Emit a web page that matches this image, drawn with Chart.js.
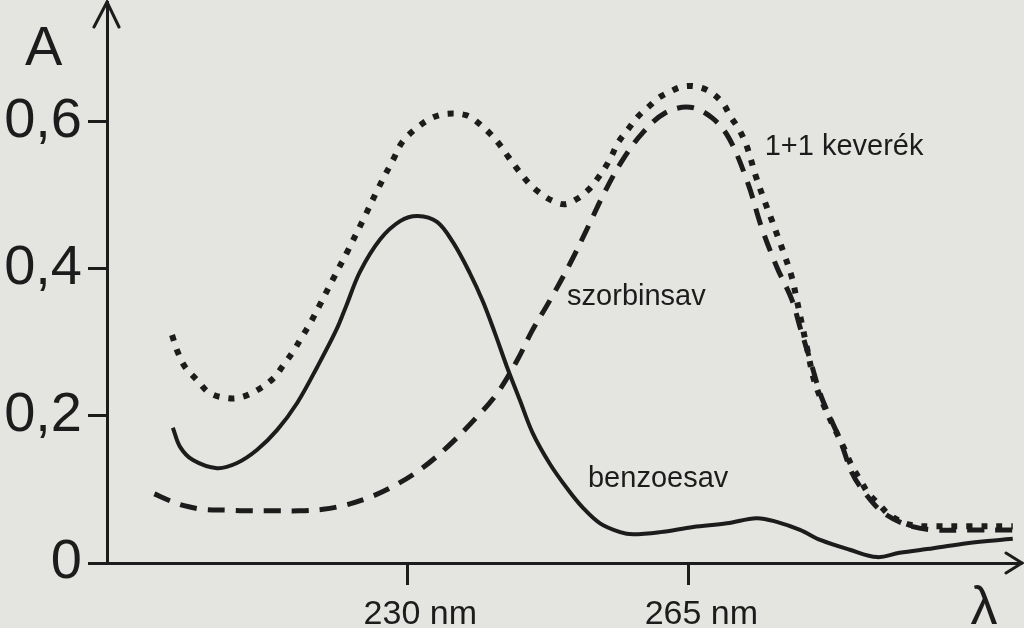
<!DOCTYPE html>
<html>
<head>
<meta charset="utf-8">
<script src="https://cdn.jsdelivr.net/npm/chart.js@4.4.1/dist/chart.umd.min.js"></script>
<style>
  html, body { margin: 0; padding: 0; background: #e4e4e1; }
  #wrap { width: 1024px; height: 628px; }
</style>
</head>
<body>
<div id="wrap"><canvas id="c" width="1024" height="628"></canvas></div>
<script>
// ---- data (wavelength in nm, absorbance A) ----
const xTicks = [230, 265];
const yTicks = [0, 0.2, 0.4, 0.6];

const benzoLambda = [200.8, 201.7, 203.3, 206.3, 208.8, 211.3, 213.8, 216.3, 218.8, 221.2, 222.4, 224.1, 226.6, 229.1, 231.3, 233.7, 235.7, 237.8, 239.4, 240.9, 242.4, 244.0, 245.6, 247.8, 250.0, 251.8, 254.0, 256.5, 258.1, 261.5, 265.6, 269.8, 273.5, 276.0, 278.9, 281.5, 285.1, 288.5, 291.3, 295.5, 299.7, 305.4];
const benzoA      = [0.184, 0.158, 0.140, 0.129, 0.136, 0.154, 0.181, 0.218, 0.267, 0.318, 0.350, 0.396, 0.440, 0.465, 0.472, 0.464, 0.436, 0.394, 0.356, 0.313, 0.267, 0.222, 0.177, 0.134, 0.100, 0.076, 0.054, 0.042, 0.039, 0.042, 0.049, 0.054, 0.061, 0.056, 0.045, 0.031, 0.018, 0.008, 0.014, 0.020, 0.027, 0.033];

const szorbLambda = [198.5, 200.6, 202.2, 204.6, 207.5, 210.5, 213.5, 216.5, 219.5, 222.0, 225.0, 228.2, 231.6, 235.0, 238.7, 241.2, 243.7, 245.5, 247.8, 250.3, 252.5, 254.6, 256.8, 259.3, 262.1, 265.2, 268.0, 270.1, 272.4, 274.1, 276.0, 277.9, 278.9, 280.2, 281.4, 282.4, 283.9, 285.4, 287.0, 289.2, 292.2, 295.5, 300.0, 305.4];
const szorbA      = [0.094, 0.084, 0.078, 0.073, 0.072, 0.071, 0.071, 0.071, 0.073, 0.078, 0.088, 0.104, 0.127, 0.158, 0.199, 0.231, 0.276, 0.315, 0.358, 0.408, 0.457, 0.505, 0.548, 0.585, 0.612, 0.620, 0.605, 0.577, 0.517, 0.457, 0.403, 0.358, 0.321, 0.275, 0.231, 0.204, 0.167, 0.122, 0.095, 0.069, 0.052, 0.045, 0.045, 0.045];

const kevLambda = [200.7, 201.4, 202.3, 203.8, 205.4, 207.8, 209.5, 211.3, 213.3, 214.5, 215.8, 216.8, 218.0, 219.1, 220.7, 222.6, 224.6, 226.4, 228.3, 229.4, 231.2, 233.0, 234.9, 237.3, 238.9, 240.3, 241.5, 242.6, 243.9, 245.1, 246.3, 248.0, 249.6, 251.1, 252.5, 253.7, 254.7, 255.5, 256.2, 257.5, 258.7, 260.0, 261.2, 262.7, 264.3, 266.0, 267.7, 269.3, 270.2, 271.4, 272.3, 273.4, 274.5, 275.4, 276.2, 277.0, 277.9, 278.5, 279.1, 279.9, 280.7, 282.0, 283.6, 284.3, 285.4, 286.4, 287.4, 288.8, 290.1, 292.6, 295.5, 300.0, 305.4];
const kevA      = [0.310, 0.287, 0.267, 0.249, 0.231, 0.224, 0.226, 0.235, 0.251, 0.268, 0.288, 0.306, 0.328, 0.351, 0.385, 0.425, 0.469, 0.510, 0.550, 0.573, 0.592, 0.605, 0.611, 0.609, 0.598, 0.584, 0.569, 0.552, 0.533, 0.517, 0.505, 0.493, 0.488, 0.495, 0.507, 0.523, 0.539, 0.555, 0.571, 0.590, 0.607, 0.620, 0.632, 0.641, 0.648, 0.648, 0.641, 0.625, 0.608, 0.588, 0.566, 0.526, 0.492, 0.466, 0.442, 0.418, 0.388, 0.358, 0.327, 0.286, 0.247, 0.211, 0.174, 0.158, 0.131, 0.113, 0.095, 0.079, 0.065, 0.052, 0.050, 0.050, 0.050];

const seriesNames = ['benzoesav', 'szorbinsav', '1+1 keverék'];
// annotation anchors in data units (λ, A)
const labelAnchors = [[252.5, 0.103], [249.9, 0.351], [274.5, 0.555]];

const X_MIN = 192.6, X_MAX = 306.3, Y_MIN = 0, Y_MAX = 0.763;

const INK = '#1c1c1c';
const FONT = '"Liberation Sans", Arial, sans-serif';

function pts(xs, ys) { return xs.map((x, i) => ({ x: x, y: ys[i] })); }
function noPad(scale) {
  scale.paddingTop = 0; scale.paddingBottom = 0;
  scale.paddingLeft = 0; scale.paddingRight = 0;
}

const decor = {
  id: 'decor',
  beforeDraw(chart) {
    const ctx = chart.ctx;
    ctx.save();
    ctx.fillStyle = '#e4e4e1';
    ctx.fillRect(0, 0, chart.width, chart.height);
    ctx.restore();
  },
  afterDraw(chart) {
    const ctx = chart.ctx;
    const xs = chart.scales.x, ys = chart.scales.y;
    const x0 = xs.getPixelForValue(X_MIN);
    const y0 = ys.getPixelForValue(0);
    const xEnd = xs.getPixelForValue(X_MAX);
    const yTop = ys.getPixelForValue(Y_MAX);
    ctx.save();
    ctx.strokeStyle = INK;
    ctx.lineWidth = 3;
    ctx.lineCap = 'round';
    // arrow heads
    ctx.beginPath();
    ctx.moveTo(x0 - 13, yTop + 25); ctx.lineTo(x0, yTop); ctx.lineTo(x0 + 12, yTop + 25);
    ctx.stroke();
    ctx.beginPath();
    ctx.moveTo(xEnd - 14, y0 - 10); ctx.lineTo(xEnd + 2, y0); ctx.lineTo(xEnd - 14, y0 + 10);
    ctx.stroke();
    ctx.beginPath();
    ctx.moveTo(xEnd - 2, y0); ctx.lineTo(xEnd + 2, y0);
    ctx.stroke();
    // axis names
    ctx.fillStyle = INK;
    ctx.textBaseline = 'alphabetic';
    ctx.textAlign = 'left';
    ctx.font = '56px ' + FONT;
    ctx.fillText('A', 25, 65);
    ctx.textAlign = 'center';
    ctx.font = '54px ' + FONT;
    ctx.fillText('λ', 984, 624);
    // curve labels
    ctx.textAlign = 'left';
    ctx.font = '29px ' + FONT;
    seriesNames.forEach((n, i) => {
      const a = labelAnchors[i];
      ctx.fillText(n, xs.getPixelForValue(a[0]), ys.getPixelForValue(a[1]));
    });
    ctx.restore();
  }
};

new Chart(document.getElementById('c'), {
  type: 'line',
  data: {
    datasets: [
      {
        label: seriesNames[1],
        data: pts(szorbLambda, szorbA),
        borderColor: INK,
        borderWidth: 5,
        borderDash: [17, 11],
        borderCapStyle: 'butt',
        pointRadius: 0,
        tension: 0.35,
        fill: false
      },
      {
        label: seriesNames[2],
        data: pts(kevLambda, kevA),
        borderColor: INK,
        borderWidth: 6,
        borderDash: [6, 9],
        borderCapStyle: 'butt',
        pointRadius: 0,
        tension: 0.35,
        fill: false
      },
      {
        label: seriesNames[0],
        data: pts(benzoLambda, benzoA),
        borderColor: INK,
        borderWidth: 4,
        pointRadius: 0,
        tension: 0.35,
        fill: false
      }
    ]
  },
  options: {
    responsive: false,
    animation: false,
    devicePixelRatio: 1,
    layout: { padding: { top: 2, right: 4, left: 0, bottom: 0 } },
    plugins: { legend: { display: false }, tooltip: { enabled: false } },
    scales: {
      x: {
        type: 'linear',
        min: X_MIN, max: X_MAX,
        afterBuildTicks(scale) { scale.ticks = xTicks.map(v => ({ value: v })); },
        afterFit(scale) { scale.height = 65; noPad(scale); },
        ticks: {
          autoSkip: false, maxRotation: 0, padding: 9, labelOffset: 13,
          color: INK, font: { family: FONT, size: 34 },
          callback: v => v + ' nm'
        },
        grid: { drawOnChartArea: false, drawTicks: true, tickLength: 22, color: INK, lineWidth: 3 },
        border: { display: true, color: INK, width: 3 }
      },
      y: {
        type: 'linear',
        min: Y_MIN, max: Y_MAX,
        afterBuildTicks(scale) { scale.ticks = yTicks.map(v => ({ value: v })); },
        afterFit(scale) { scale.width = 107; noPad(scale); },
        ticks: {
          padding: 6, color: INK, font: { family: FONT, size: 56 },
          callback: v => String(Math.round(v * 10) / 10).replace('.', ',')
        },
        grid: { drawOnChartArea: false, drawTicks: true, tickLength: 19, color: INK, lineWidth: 3 },
        border: { display: true, color: INK, width: 3 }
      }
    }
  },
  plugins: [decor]
});
</script>
</body>
</html>
